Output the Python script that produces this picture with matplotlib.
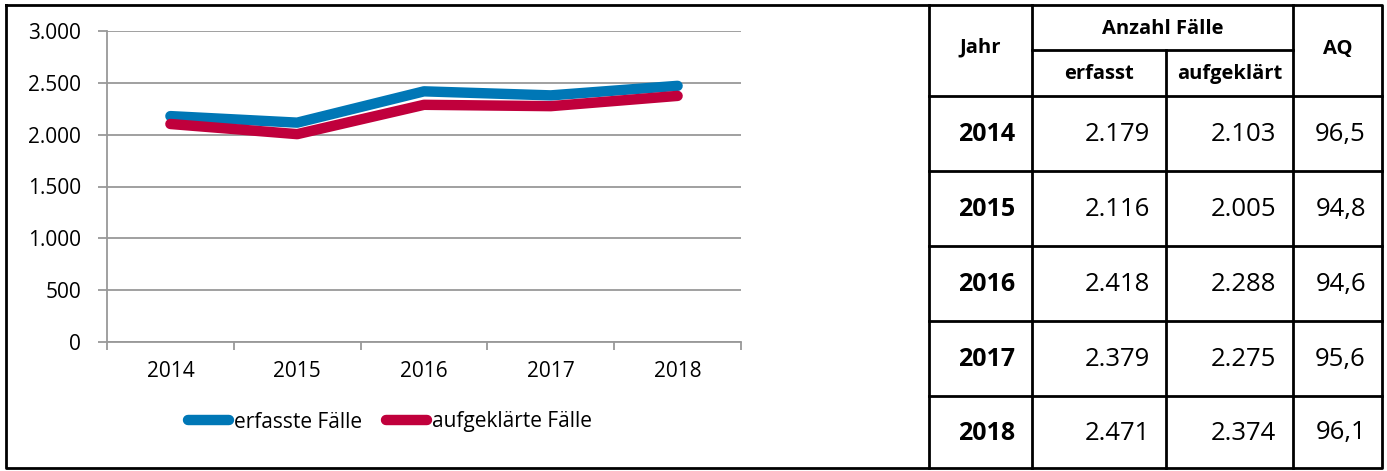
import matplotlib.pyplot as plt
import numpy as np

plt.rcParams['font.family'] = ['Open Sans', 'DejaVu Sans']

# data
years = ["2014", "2015", "2016", "2017", "2018"]
erfasst = [2179, 2116, 2418, 2379, 2471]
aufgeklaert = [2103, 2005, 2288, 2275, 2374]
aq = [96.5, 94.8, 94.6, 95.6, 96.1]

W, H = 1387, 471


def de(n):
    return f"{n:,}".replace(",", ".")


fig = plt.figure(figsize=(W / 100, H / 100), dpi=100)

# ---- line chart ----
ax = fig.add_axes([107 / W, 1 - 342 / H, (741 - 107) / W, (342 - 31) / H])
x = np.arange(len(years))
ax.plot(x, erfasst, color="#0077b6", lw=7.5, solid_capstyle="round", label="erfasste Fälle", zorder=3)
ax.plot(x, aufgeklaert, color="#c0003c", lw=7.5, solid_capstyle="round", label="aufgeklärte Fälle", zorder=3)
ax.set_xlim(-0.5, 4.5)
ax.set_ylim(0, 3000)
ax.set_yticks(np.arange(0, 3001, 500))
ax.set_yticklabels([de(v) for v in range(0, 3001, 500)], fontsize=15)
ax.set_xticks(x)
ax.set_xticklabels(years, fontsize=15)
ax.set_xticks(np.arange(-0.5, 5, 1), minor=True)
ax.tick_params(axis="x", which="major", length=0, pad=14)
ax.tick_params(axis="x", which="minor", length=6, color="#999999", width=1.3)
ax.tick_params(axis="y", length=6.5, color="#999999", width=1.3, pad=12)
ax.grid(axis="y", color="#999999", lw=1.3)
ax.set_axisbelow(True)
for s in ["top", "right"]:
    ax.spines[s].set_visible(False)
for s in ["left", "bottom"]:
    ax.spines[s].set_color("#999999")
    ax.spines[s].set_linewidth(1.3)

fig.legend(loc="center", bbox_to_anchor=(390 / W, 1 - 422 / H), ncol=2, frameon=False,
           fontsize=15, handlelength=2.0, handletextpad=0.25, columnspacing=1.1)

# ---- frame + table ----
ov = fig.add_axes([0, 0, 1, 1])
ov.set_xlim(0, W)
ov.set_ylim(H, 0)
ov.axis("off")
lw = 2
ov.plot([6, 1382, 1382, 6, 6], [5, 5, 468, 468, 5], color="black", lw=lw)
ov.plot([929, 929], [5, 468], color="black", lw=lw)

rows = [96, 171, 246, 321, 396, 468]
ov.plot([1032, 1293], [50, 50], color="black", lw=lw)
for y in rows[:-1]:
    ov.plot([929, 1382], [y, y], color="black", lw=lw)
ov.plot([1032, 1032], [5, 468], color="black", lw=lw)
ov.plot([1293, 1293], [5, 468], color="black", lw=lw)
ov.plot([1166, 1166], [50, 468], color="black", lw=lw)

hb = dict(ha="center", va="center", fontsize=14.5, fontweight="bold")
ov.text((929 + 1032) / 2, 47, "Jahr", **hb)
ov.text((1032 + 1293) / 2, 29, "Anzahl Fälle", **hb)
ov.text((1032 + 1166) / 2, 74, "erfasst", **hb)
ov.text((1166 + 1293) / 2, 74, "aufgeklärt", **hb)
ov.text((1293 + 1382) / 2, 49, "AQ", **hb)

for i, yr in enumerate(years):
    yc = (rows[i] + rows[i + 1]) / 2 + 1
    ov.text(1015, yc, yr, ha="right", va="center", fontsize=18, fontweight="bold")
    ov.text(1150, yc, de(erfasst[i]), ha="right", va="center", fontsize=18.5)
    ov.text(1276, yc, de(aufgeklaert[i]), ha="right", va="center", fontsize=18.5)
    ov.text(1366, yc, f"{aq[i]:.1f}".replace(".", ","), ha="right", va="center", fontsize=18.5)

fig.savefig("out.png", dpi=100)
